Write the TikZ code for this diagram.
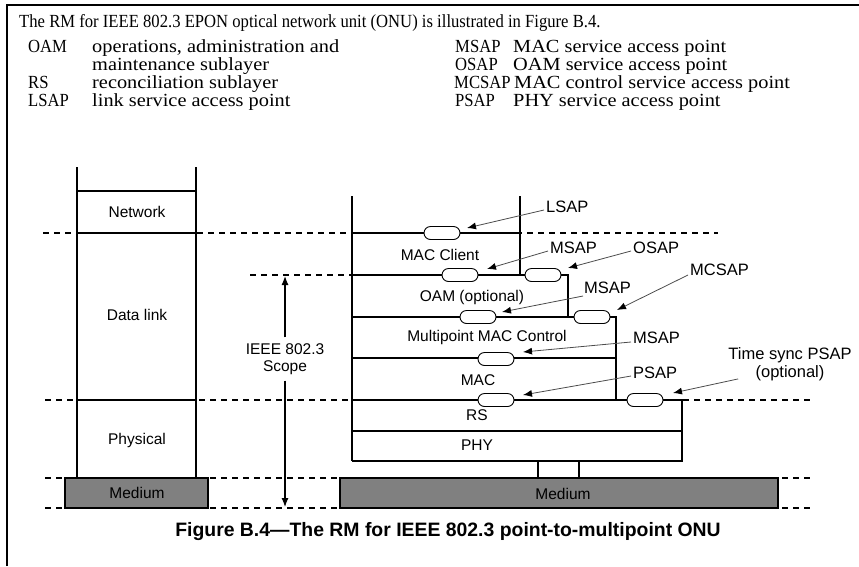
\documentclass[tikz,border=0pt]{standalone}
\usepackage{fontspec}
\setmainfont{Liberation Serif}
\newfontfamily\labelfont{Liberation Sans}
\newfontfamily\narrowfont[FakeStretch=0.9]{Liberation Serif}
\newfontfamily\widefont[FakeStretch=1.1]{Liberation Serif}
\usetikzlibrary{arrows.meta,shapes.misc}
\begin{document}
\begin{tikzpicture}[x=1pt,y=-1pt,
  layertext/.style={font=\labelfont\fontsize{15.5}{17}\selectfont, inner sep=0pt},
  saptext/.style={font=\labelfont\fontsize{16.5}{18}\selectfont, inner sep=0pt, align=center},
  introtext/.style={font=\narrowfont\fontsize{18.5}{18}\selectfont, anchor=base west, inner sep=0pt},
  legend/.style={font=\narrowfont\fontsize{18.5}{18}\selectfont, anchor=base west, inner sep=0pt},
  legenddesc/.style={font=\widefont\fontsize{18.5}{18}\selectfont, anchor=base west, inner sep=0pt},
  sap/.style={draw, rounded rectangle, fill=white, minimum width=36pt, minimum height=13pt, inner sep=0pt, line width=0.9pt},
  stackline/.style={line width=1.3pt},
  thindash/.style={line width=1.2pt, dash pattern=on 6pt off 5pt},
  thickdash/.style={line width=2.6pt, dash pattern=on 6pt off 5pt},
  pointer/.style={line width=0.8pt, draw=black!70, -{Latex[length=9pt,width=7pt,color=black]}},
  medium/.style={draw, line width=1.3pt, fill=black!50}
]
\useasboundingbox (0,0) rectangle (859,566);
% page frame
\draw[line width=2.2pt] (7,566) -- (7,5) -- (859,5);

% introductory sentence and abbreviation list
\node[introtext] (intro) at (19,27) {The RM for IEEE 802.3 EPON optical network unit (ONU) is illustrated in Figure B.4.};
\node[legend] (abOAM) at (28,52) {OAM};
\node[legenddesc] (dsOAM) at (92,52) {operations, administration and};
\node[legenddesc] (dsOAMb) at (92,70) {maintenance sublayer};
\node[legend] (abRS) at (28,88) {RS};
\node[legenddesc] (dsRS) at (92,88) {reconciliation sublayer};
\node[legend] (abLSAP) at (28,106) {LSAP};
\node[legenddesc] (dsLSAP) at (92,106) {link service access point};
\node[legend] (abMSAP) at (455,52) {MSAP};
\node[legenddesc] (dsMSAP) at (513,52) {MAC service access point};
\node[legend] (abOSAP) at (455,70) {OSAP};
\node[legenddesc] (dsOSAP) at (513,70) {OAM service access point};
\node[legend] (abMCSAP) at (454,88) {MCSAP};
\node[legenddesc] (dsMCSAP) at (514,88) {MAC control service access point};
\node[legend] (abPSAP) at (455,106) {PSAP};
\node[legenddesc] (dsPSAP) at (513,106) {PHY service access point};

% medium boxes
\draw[medium] (65,478) rectangle (208,508);
\draw[medium] (340,478) rectangle (778,508);
\node[layertext] (medL) at (137,493) {Medium};
\node[layertext] (medR) at (563,494) {Medium};

% layer boundaries
\draw[thindash] (43,233) -- (718,233);
\draw[thickdash] (250,275) -- (352,275);
\draw[thickdash] (45,400) -- (810,400);
\draw[thickdash] (45,478) -- (810,478);
\draw[thickdash] (45,508) -- (810,508);

% OSI reference stack
\draw[stackline] (77,167) -- (77,478);
\draw[stackline] (196,167) -- (196,478);
\draw[stackline] (77,191) -- (196,191);
\draw[stackline] (77,233) -- (196,233);
\draw[stackline] (77,400) -- (196,400);
\node[layertext] (network) at (137,212) {Network};
\node[layertext] (datalink) at (137,315) {Data link};
\node[layertext] (physical) at (137,440) {Physical};

% IEEE 802.3 scope
\node[layertext, align=center] (scope) at (285,359) {IEEE 802.3\\Scope};
\coordinate (scopeTop) at (285,276);
\coordinate (scopeBot) at (285,507);
\draw[line width=1.2pt, -{Latex[length=9pt,width=7pt]}] (scope.north) ++(0,-6) -- (scopeTop);
\draw[line width=1.2pt, -{Latex[length=9pt,width=7pt]}] (scope.south) ++(0,6) -- (scopeBot);

% ONU sublayer stack
\draw[stackline] (352,196) -- (352,461);
\draw[stackline] (520,196) -- (520,275);
\draw[stackline] (352,233) -- (520,233);
\draw[stackline] (352,275) -- (568,275) -- (568,317);
\draw[stackline] (352,317) -- (616,317) -- (616,400);
\draw[stackline] (352,358) -- (616,358);
\draw[stackline] (352,400) -- (682,400) -- (682,461) -- (352,461);
\draw[stackline] (352,431) -- (682,431);
\draw[stackline] (538,461) -- (538,478);
\draw[stackline] (579,461) -- (579,478);

\node[layertext] (macclient) at (440,255) {MAC Client};
\node[layertext] (oam) at (472,297) {OAM (optional)};
\node[layertext] (mpmc) at (487,337) {Multipoint MAC Control};
\node[layertext] (mac) at (478,380) {MAC};
\node[layertext] (rs) at (477,415) {RS};
\node[layertext] (phy) at (477,445) {PHY};

% service access points
\node[sap] (lsap) at (442,233) {};
\node[sap] (msapA) at (460,275) {};
\node[sap] (osap) at (543,275) {};
\node[sap] (msapB) at (478,317) {};
\node[sap] (mcsap) at (592,317) {};
\node[sap] (msapC) at (496,359) {};
\node[sap] (psap) at (496,400) {};
\node[sap] (tspsap) at (645,400) {};

% access point labels and pointers
\node[saptext, anchor=west] (tLSAP) at (546,207) {LSAP};
\node[saptext, anchor=west] (tMSAPa) at (550,248) {MSAP};
\node[saptext, anchor=west] (tOSAP) at (633,248) {OSAP};
\node[saptext, anchor=west] (tMSAPb) at (584,288) {MSAP};
\node[saptext, anchor=west] (tMCSAP) at (690,270) {MCSAP};
\node[saptext, anchor=west] (tMSAPc) at (633,338) {MSAP};
\node[saptext, anchor=west] (tPSAP) at (633,373) {PSAP};
\node[saptext] (tTS) at (790,364) {Time sync PSAP\\(optional)};

\coordinate (lsapTip) at (467,228);
\coordinate (msapATip) at (487,269);
\coordinate (osapTip) at (568,268);
\coordinate (msapBTip) at (502,312);
\coordinate (mcsapTip) at (617,310);
\coordinate (msapCTip) at (523,352);
\coordinate (psapTip) at (523,395);
\coordinate (tspsapTip) at (673,393);

\draw[pointer] ([shift={(-2,3)}]tLSAP.west) -- (lsapTip);
\draw[pointer] ([shift={(-2,3)}]tMSAPa.west) -- (msapATip);
\draw[pointer] ([shift={(-2,3)}]tOSAP.west) -- (osapTip);
\draw[pointer] ([shift={(-1,8)}]tMSAPb.west) -- (msapBTip);
\draw[pointer] ([shift={(-2,5)}]tMCSAP.west) -- (mcsapTip);
\draw[pointer] ([shift={(-2,4)}]tMSAPc.west) -- (msapCTip);
\draw[pointer] ([shift={(-2,3)}]tPSAP.west) -- (psapTip);
\draw[pointer] ([shift={(10,-2)}]tTS.south west) -- (tspsapTip);

% caption
\node[font=\labelfont\bfseries\fontsize{19.4}{21}\selectfont, inner sep=0pt] (caption) at (448,532)
  {Figure B.4—The RM for IEEE 802.3 point-to-multipoint ONU};
\end{tikzpicture}
\end{document}
